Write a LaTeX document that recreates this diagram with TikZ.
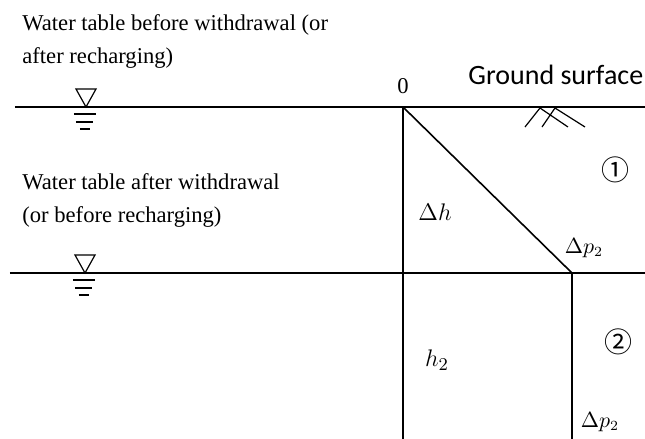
\documentclass[tikz,border=0pt]{standalone}
\usepackage{fontspec}
\setmainfont{Liberation Serif}
\newfontfamily\groundfont{Carlito}
\newfontfamily\cjk{Noto Sans CJK JP}
\usetikzlibrary{positioning}

\begin{document}
\begin{tikzpicture}[
    x=0.5pt, y=-0.5pt,
    note/.style={align=left, inner sep=0pt, font=\fontsize{11.3}{16.5}\selectfont},
    level/.style={line width=0.8pt},
    wall/.style={line width=0.8pt},
    symb/.style={line width=0.6pt},
    zone/.style={inner sep=0pt, font=\cjk\fontsize{14}{16}\selectfont},
    qty/.style={inner sep=0pt, font=\fontsize{12.5}{15}\selectfont},
    small qty/.style={inner sep=0pt, font=\fontsize{10.5}{12}\selectfont},
    pics/wtsign/.style={code={
      \draw[symb] (-10,-18) -- (10,-18) -- (0,0) -- cycle;
      \draw[symb] (-12,7) -- (10,7) (-10,15) -- (7,15) (-6,22) -- (4,22);
    }}
  ]
    \useasboundingbox (0,0) rectangle (645,439);

    % levels and walls
    \coordinate (tl) at (15,107);
    \coordinate (tr) at (645,107);
    \coordinate (bl) at (10,273);
    \coordinate (br) at (645,273);
    \coordinate (o) at (403,107);
    \coordinate (ob) at (403,439);
    \coordinate (k) at (572,273);
    \coordinate (kb) at (572,439);

    \draw[level] (tl) -- (tr);
    \draw[level] (bl) -- (br);
    \draw[wall] (o) -- (ob);
    \draw[wall] (o) -- (k) -- (kb);

    % water table signs
    \pic at (86,107) {wtsign};
    \pic at (85,273) {wtsign};

    % ground hatch
    \draw[symb] (525,127) -- (540,108) -- (568,127)
                (542,127) -- (555,108) -- (585,127);

    % labels (base = last line)
    \node[note, anchor=base west] (before) at (22,63) {Water table before withdrawal (or\\after recharging)};
    \node[note, anchor=base west] (after) at (22,222) {Water table after withdrawal\\(or before recharging)};
    \node[note, anchor=base] (zero) at (403,93) {0};
    \node[inner sep=0pt, anchor=base west, font=\groundfont\fontsize{14}{16}\selectfont] (ground) at (468,84) {Ground surface};
    \node[qty] (dh) at (435,212) {$\Delta h$};
    \node[qty] (h2) at (437,360) {$h_2$};
    \node[small qty] (dp1) at (584,248) {$\Delta p_2$};
    \node[small qty] (dp2) at (600,422) {$\Delta p_2$};
    \node[zone] (z1) at (616,170) {①};
    \node[zone] (z2) at (619,342) {②};
\end{tikzpicture}
\end{document}
